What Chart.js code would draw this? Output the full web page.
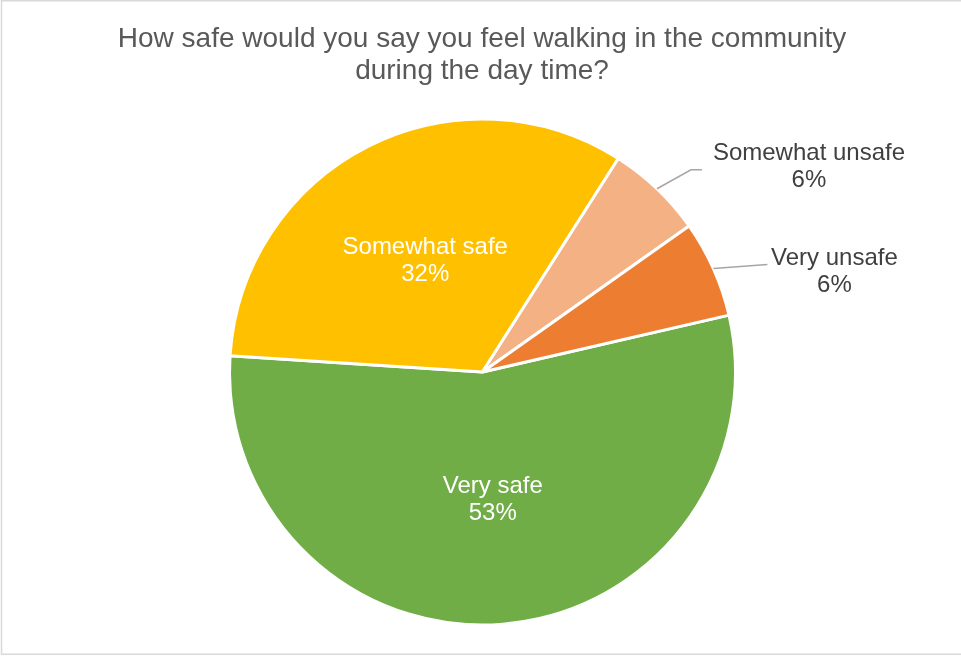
<!DOCTYPE html>
<html>
<head>
<meta charset="utf-8">
<script src="https://cdn.jsdelivr.net/npm/chart.js@4/dist/chart.umd.min.js"></script>
<style>
  html, body { margin: 0; padding: 0; background: #ffffff; }
  #wrap { width: 961px; height: 656px; position: relative; }
</style>
</head>
<body>
<div id="wrap"><canvas id="pie" width="961" height="656"></canvas></div>
<script>
// Survey answers and their shares (percent)
const categories = ['Very safe', 'Somewhat safe', 'Somewhat unsafe', 'Very unsafe'];
const shares = [53, 32, 6, 6];
const sliceColors = ['#70AD47', '#FFC000', '#F4B183', '#ED7D31'];
const titleLines = ['How safe would you say you feel walking in the community', 'during the day time?'];

// Where each label goes: inside the slice, or outside with a leader line.
// Offsets are measured from the point where the leader meets the slice edge.
const labelPlacement = [
  { inside: true },
  { inside: true },
  { inside: false, leader: [[34, -19], [45, -19]], text: [152, -22] },
  { inside: false, leader: [[54, -4]], text: [121, 3] }
];

const FONT = '"Liberation Sans", Arial, sans-serif';

const decorPlugin = {
  id: 'decor',
  beforeDraw(chart) {
    const ctx = chart.ctx;
    ctx.save();
    ctx.fillStyle = '#ffffff';
    ctx.fillRect(0, 0, chart.width, chart.height);
    // outer frame
    ctx.strokeStyle = '#d9d9d9';
    ctx.lineWidth = 1.5;
    ctx.strokeRect(1.5, 0.75, chart.width + 10, 653.5);
    // title
    ctx.fillStyle = '#595959';
    ctx.font = '28px ' + FONT;
    ctx.textAlign = 'center';
    ctx.textBaseline = 'middle';
    titleLines.forEach((t, i) => ctx.fillText(t, 482, 39 + i * 32));
    ctx.restore();
  },
  afterDatasetsDraw(chart) {
    const ctx = chart.ctx;
    const meta = chart.getDatasetMeta(0);
    const values = chart.data.datasets[0].data;
    ctx.save();
    ctx.font = '24px ' + FONT;
    ctx.textAlign = 'center';
    ctx.textBaseline = 'middle';
    meta.data.forEach((arc, i) => {
      const p = arc.getProps(['x', 'y', 'startAngle', 'endAngle', 'outerRadius'], true);
      const mid = (p.startAngle + p.endAngle) / 2;
      const lines = [categories[i], values[i] + '%'];
      const place = labelPlacement[i];
      if (place.inside) {
        const cx = p.x + Math.cos(mid) * p.outerRadius * 0.5;
        const cy = p.y + Math.sin(mid) * p.outerRadius * 0.5 + 2;
        ctx.fillStyle = '#ffffff';
        ctx.fillText(lines[0], cx, cy - 13.5);
        ctx.fillText(lines[1], cx, cy + 13.5);
      } else {
        const ex = p.x + Math.cos(mid) * p.outerRadius;
        const ey = p.y + Math.sin(mid) * p.outerRadius;
        ctx.strokeStyle = '#a6a6a6';
        ctx.lineWidth = 1.5;
        ctx.beginPath();
        ctx.moveTo(ex, ey);
        place.leader.forEach(([dx, dy]) => ctx.lineTo(ex + dx, ey + dy));
        ctx.stroke();
        const tx = ex + place.text[0];
        const ty = ey + place.text[1];
        ctx.fillStyle = '#404040';
        ctx.fillText(lines[0], tx, ty - 13.5);
        ctx.fillText(lines[1], tx, ty + 13.5);
      }
    });
    ctx.restore();
  }
};

new Chart(document.getElementById('pie'), {
  type: 'pie',
  data: {
    labels: categories,
    datasets: [{
      data: shares,
      backgroundColor: sliceColors,
      borderColor: '#ffffff',
      borderWidth: 3,
      radius: 253
    }]
  },
  options: {
    responsive: false,
    animation: false,
    rotation: 77,
    layout: { padding: { left: 228.5, right: 224.5, top: 117.5, bottom: 29.5 } },
    plugins: {
      legend: { display: false },
      title: { display: false },
      tooltip: { enabled: false }
    }
  },
  plugins: [decorPlugin]
});
</script>
</body>
</html>
